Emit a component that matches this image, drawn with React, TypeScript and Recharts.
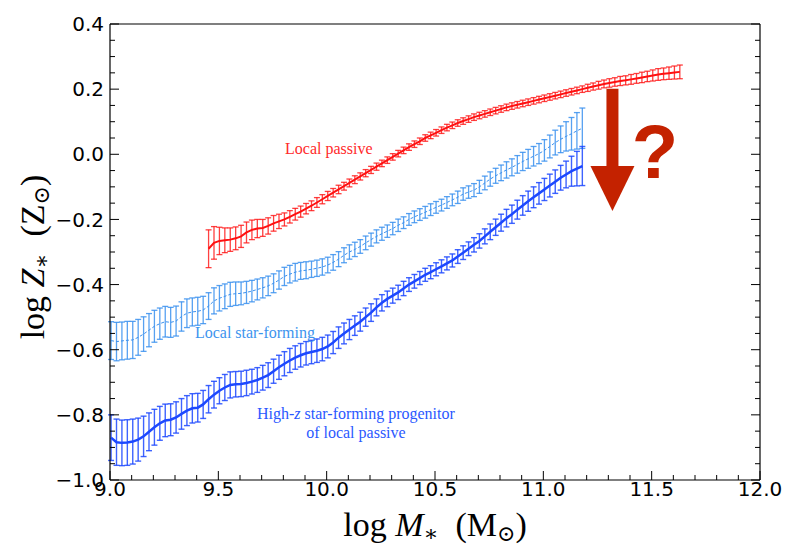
import {
  ComposedChart,
  ErrorBar,
  Line,
  ReferenceDot,
  ReferenceLine,
  XAxis,
  YAxis,
} from "recharts";

// stellar-mass bin centres, log M* (Msun)
const MASS = [
  9.005, 9.03, 9.055, 9.08, 9.105, 9.13, 9.155, 9.18, 9.205, 9.23,
  9.255, 9.28, 9.305, 9.33, 9.355, 9.38, 9.405, 9.43, 9.455, 9.48,
  9.505, 9.53, 9.555, 9.58, 9.605, 9.63, 9.655, 9.68, 9.705, 9.73,
  9.755, 9.78, 9.805, 9.83, 9.855, 9.88, 9.905, 9.93, 9.955, 9.98,
  10.005, 10.03, 10.055, 10.08, 10.105, 10.13, 10.155, 10.18, 10.205, 10.23,
  10.255, 10.28, 10.305, 10.33, 10.355, 10.38, 10.405, 10.43, 10.455, 10.48,
  10.505, 10.53, 10.555, 10.58, 10.605, 10.63, 10.655, 10.68, 10.705, 10.73,
  10.755, 10.78, 10.805, 10.83, 10.855, 10.88, 10.905, 10.93, 10.955, 10.98,
  11.005, 11.03, 11.055, 11.08, 11.105, 11.13, 11.155, 11.18, 11.205, 11.23,
  11.255, 11.28, 11.305, 11.33, 11.355, 11.38, 11.405, 11.43, 11.455, 11.48,
  11.505, 11.53, 11.555, 11.58, 11.605, 11.63,
];

// local passive galaxies start at the 9.455 bin
const PASSIVE_FIRST_BIN = 18;

const PASSIVE_Z = [
  -0.29, -0.272, -0.266, -0.264, -0.262, -0.258, -0.252, -0.24, -0.232, -0.228,
  -0.226, -0.22, -0.212, -0.206, -0.2, -0.192, -0.184, -0.176, -0.167, -0.158,
  -0.148, -0.138, -0.128, -0.118, -0.108, -0.098, -0.088, -0.078, -0.068, -0.058,
  -0.048, -0.038, -0.028, -0.018, -0.008, 0.002, 0.012, 0.022, 0.031, 0.04,
  0.05, 0.058, 0.066, 0.074, 0.082, 0.089, 0.096, 0.102, 0.108, 0.114,
  0.119, 0.124, 0.129, 0.134, 0.139, 0.144, 0.148, 0.152, 0.156, 0.16,
  0.164, 0.168, 0.172, 0.176, 0.18, 0.184, 0.188, 0.192, 0.196, 0.2,
  0.204, 0.208, 0.212, 0.216, 0.219, 0.222, 0.225, 0.227, 0.23, 0.233,
  0.236, 0.239, 0.242, 0.245, 0.247, 0.249, 0.251, 0.253,
];
const PASSIVE_ERR = [
  0.058, 0.05, 0.042, 0.038, 0.036, 0.035, 0.034, 0.032, 0.03, 0.028,
  0.026, 0.025, 0.024, 0.022, 0.02, 0.019, 0.018, 0.017, 0.016, 0.015,
  0.015, 0.014, 0.014, 0.013, 0.013, 0.012, 0.012, 0.012, 0.011, 0.011,
  0.011, 0.011, 0.01, 0.01, 0.01, 0.01, 0.01, 0.01, 0.01, 0.01,
  0.01, 0.01, 0.01, 0.01, 0.01, 0.01, 0.01, 0.01, 0.01, 0.01,
  0.01, 0.01, 0.01, 0.01, 0.01, 0.01, 0.01, 0.01, 0.01, 0.01,
  0.01, 0.01, 0.01, 0.01, 0.01, 0.01, 0.01, 0.01, 0.01, 0.01,
  0.011, 0.011, 0.012, 0.012, 0.013, 0.013, 0.014, 0.014, 0.015, 0.015,
  0.016, 0.016, 0.017, 0.018, 0.018, 0.019, 0.02, 0.021,
];

// local star-forming galaxies
const SF_Z = [
  -0.572, -0.575, -0.573, -0.571, -0.57, -0.562, -0.552, -0.54, -0.528, -0.52,
  -0.514, -0.516, -0.512, -0.498, -0.488, -0.484, -0.482, -0.478, -0.466, -0.45,
  -0.442, -0.436, -0.43, -0.428, -0.427, -0.424, -0.42, -0.415, -0.41, -0.404,
  -0.396, -0.386, -0.375, -0.368, -0.362, -0.358, -0.356, -0.353, -0.35, -0.346,
  -0.34, -0.332, -0.322, -0.31, -0.3, -0.292, -0.283, -0.272, -0.262, -0.252,
  -0.244, -0.236, -0.228, -0.218, -0.21, -0.2, -0.192, -0.185, -0.178, -0.17,
  -0.163, -0.156, -0.148, -0.14, -0.132, -0.122, -0.116, -0.11, -0.1, -0.088,
  -0.076, -0.066, -0.057, -0.048, -0.04, -0.031, -0.022, -0.014, -0.006, 0.002,
  0.012, 0.024, 0.036, 0.046, 0.055, 0.063, 0.072, 0.08,
];
const SF_ERR = [
  0.058, 0.059, 0.058, 0.058, 0.057, 0.055, 0.053, 0.051, 0.049, 0.048,
  0.047, 0.046, 0.046, 0.045, 0.044, 0.043, 0.043, 0.042, 0.041, 0.04,
  0.039, 0.038, 0.037, 0.036, 0.035, 0.034, 0.033, 0.032, 0.031, 0.03,
  0.029, 0.028, 0.028, 0.027, 0.027, 0.026, 0.026, 0.025, 0.025, 0.025,
  0.024, 0.024, 0.023, 0.023, 0.022, 0.022, 0.021, 0.021, 0.02, 0.02,
  0.02, 0.019, 0.019, 0.019, 0.018, 0.018, 0.018, 0.018, 0.018, 0.018,
  0.018, 0.018, 0.018, 0.018, 0.019, 0.019, 0.019, 0.02, 0.02, 0.021,
  0.022, 0.023, 0.024, 0.025, 0.026, 0.027, 0.028, 0.029, 0.03, 0.031,
  0.033, 0.035, 0.038, 0.041, 0.045, 0.05, 0.056, 0.062,
];

// high-z star-forming progenitors of local passive galaxies
const HIZ_Z = [
  -0.87, -0.884, -0.886, -0.885, -0.882, -0.876, -0.866, -0.852, -0.838, -0.826,
  -0.817, -0.815, -0.808, -0.797, -0.787, -0.78, -0.778, -0.768, -0.752, -0.738,
  -0.726, -0.716, -0.708, -0.706, -0.705, -0.702, -0.698, -0.693, -0.686, -0.678,
  -0.666, -0.654, -0.643, -0.633, -0.624, -0.617, -0.611, -0.607, -0.603, -0.598,
  -0.59, -0.578, -0.563, -0.55, -0.538, -0.526, -0.514, -0.5, -0.486, -0.47,
  -0.456, -0.444, -0.434, -0.424, -0.412, -0.4, -0.39, -0.38, -0.37, -0.362,
  -0.353, -0.344, -0.335, -0.326, -0.314, -0.302, -0.29, -0.278, -0.266, -0.252,
  -0.238, -0.224, -0.21, -0.196, -0.184, -0.17, -0.157, -0.144, -0.132, -0.12,
  -0.108, -0.096, -0.084, -0.072, -0.062, -0.052, -0.044, -0.036,
];
const HIZ_ERR = [
  0.07, 0.071, 0.07, 0.07, 0.069, 0.066, 0.062, 0.058, 0.055, 0.052,
  0.05, 0.049, 0.048, 0.047, 0.046, 0.045, 0.044, 0.043, 0.042, 0.041,
  0.04, 0.04, 0.04, 0.039, 0.039, 0.039, 0.038, 0.038, 0.038, 0.038,
  0.037, 0.037, 0.037, 0.037, 0.036, 0.036, 0.036, 0.036, 0.036, 0.036,
  0.035, 0.034, 0.033, 0.032, 0.031, 0.03, 0.029, 0.028, 0.027, 0.026,
  0.025, 0.024, 0.023, 0.022, 0.022, 0.021, 0.021, 0.02, 0.02, 0.02,
  0.02, 0.02, 0.02, 0.02, 0.021, 0.021, 0.021, 0.022, 0.022, 0.023,
  0.024, 0.025, 0.026, 0.027, 0.028, 0.029, 0.03, 0.031, 0.032, 0.033,
  0.034, 0.035, 0.036, 0.038, 0.041, 0.046, 0.053, 0.06,
];

const X_TICKS = [
  9.0, 9.1, 9.2, 9.3, 9.4, 9.5, 9.6, 9.7, 9.8, 9.9,
  10.0, 10.1, 10.2, 10.3, 10.4, 10.5, 10.6, 10.7, 10.8, 10.9,
  11.0, 11.1, 11.2, 11.3, 11.4, 11.5, 11.6, 11.7, 11.8, 11.9, 12.0,
];
const Y_TICKS = [
  -1.0, -0.95, -0.9, -0.85, -0.8, -0.75, -0.7, -0.65, -0.6, -0.55,
  -0.5, -0.45, -0.4, -0.35, -0.3, -0.25, -0.2, -0.15, -0.1, -0.05,
  0.0, 0.05, 0.1, 0.15, 0.2, 0.25, 0.3, 0.35, 0.4,
];

const passiveData = PASSIVE_Z.map((z, i) => ({
  mass: MASS[i + PASSIVE_FIRST_BIN],
  z,
  err: PASSIVE_ERR[i],
}));
const sfData = SF_Z.map((z, i) => ({ mass: MASS[i], z, err: SF_ERR[i] }));
const hizData = HIZ_Z.map((z, i) => ({ mass: MASS[i], z, err: HIZ_ERR[i] }));

const RED = "#ff1010";
const LIGHT_BLUE = "#3a90ee";
const BLUE = "#1c48ff";
const ARROW = "#c42200";

const SANS = "'DejaVu Sans', sans-serif";
const SERIF = "'Liberation Serif', 'DejaVu Serif', serif";

const MAJOR = 9;
const MINOR = 5;

const isMajorX = (v: number) => Math.abs(v * 2 - Math.round(v * 2)) < 1e-6;
const isMajorY = (v: number) => Math.abs(v * 5 - Math.round(v * 5)) < 1e-6;
const fmt = (v: number) => v.toFixed(1).replace("-", "\u2212");

function BottomTick({ x, y, payload }: any) {
  const major = isMajorX(payload.value);
  return (
    <g>
      <line x1={x} x2={x} y1={y} y2={y - (major ? MAJOR : MINOR)} stroke="#000" />
      {major && (
        <text x={x} y={y + 16} textAnchor="middle" fontFamily={SANS} fontSize={20} fill="#000">
          {fmt(payload.value)}
        </text>
      )}
    </g>
  );
}

function TopTick({ x, y, payload }: any) {
  const major = isMajorX(payload.value);
  return <line x1={x} x2={x} y1={y} y2={y + (major ? MAJOR : MINOR)} stroke="#000" />;
}

function LeftTick({ x, y, payload }: any) {
  const major = isMajorY(payload.value);
  return (
    <g>
      <line x1={x} x2={x + (major ? MAJOR : MINOR)} y1={y} y2={y} stroke="#000" />
      {major && (
        <text
          x={x - 6}
          y={y}
          dy="0.36em"
          textAnchor="end"
          fontFamily={SANS}
          fontSize={20}
          fill="#000"
        >
          {fmt(payload.value)}
        </text>
      )}
    </g>
  );
}

function RightTick({ x, y, payload }: any) {
  const major = isMajorY(payload.value);
  return <line x1={x} x2={x - (major ? MAJOR : MINOR)} y1={y} y2={y} stroke="#000" />;
}

// "log Q* (Q☉)" with subscripted asterisk and solar symbol
function MathTitle({ sym, x, y, transform }: any) {
  return (
    <text
      x={x}
      y={y}
      textAnchor="middle"
      transform={transform}
      fontFamily={SERIF}
      fontSize={34}
      fill="#000"
    >
      <tspan>log{"\u00a0"}</tspan>
      <tspan fontStyle="italic">{sym}</tspan>
      <tspan dy={5} fontSize={22}>{"\u2217"}</tspan>
      <tspan dy={-5}>{"\u00a0\u00a0"}({sym}</tspan>
      <tspan dy={5} fontSize={22}>{"\u2299"}</tspan>
      <tspan dy={-5}>)</tspan>
    </text>
  );
}

function XTitle({ viewBox }: any) {
  return <MathTitle sym="M" x={viewBox.x + viewBox.width / 2} y={viewBox.y + 56} />;
}

function YTitle({ viewBox }: any) {
  const cy = viewBox.y + viewBox.height / 2 + 5;
  const x = 44;
  return <MathTitle sym="Z" x={x} y={cy} transform={`rotate(-90, ${x}, ${cy})`} />;
}

const note = (lines: React.ReactNode[], color: string) => (props: any) => (
  <text x={props.cx} y={props.cy} textAnchor="middle" fontFamily={SERIF} fontSize={16} fill={color}>
    {lines.map((l, i) => (
      <tspan key={i} x={props.cx} dy={i === 0 ? 0 : 19}>
        {l}
      </tspan>
    ))}
  </text>
);

const arrowHead = (props: any) => (
  <polygon
    points={`${props.cx - 22},${props.cy} ${props.cx + 22},${props.cy} ${props.cx},${props.cy + 45}`}
    fill={ARROW}
  />
);

const question = (props: any) => (
  <text
    x={props.cx}
    y={props.cy}
    textAnchor="middle"
    fontFamily="'Liberation Sans', Arial, sans-serif"
    fontWeight="bold"
    fontSize={76}
    fill={ARROW}
  >
    ?
  </text>
);

const axisLine = { stroke: "#000", strokeWidth: 1.2 };

export default function App() {
  return (
    <div style={{ position: "absolute", left: 0, top: 0, width: 788, height: 548, background: "#fff" }}>
      {/* axis bands are 1px wide: the margins put the frame at 110..760 x 24..480 */}
      <ComposedChart width={788} height={548} margin={{ top: 23, right: 27, bottom: 67, left: 109 }}>
        <XAxis
          xAxisId="b"
          dataKey="mass"
          type="number"
          orientation="bottom"
          domain={[9, 12]}
          allowDataOverflow
          ticks={X_TICKS}
          interval={0}
          height={1}
          tickSize={0}
          tickMargin={0}
          tickLine={false}
          tick={<BottomTick />}
          axisLine={axisLine}
          label={<XTitle />}
        />
        <XAxis
          xAxisId="t"
          type="number"
          orientation="top"
          domain={[9, 12]}
          allowDataOverflow
          ticks={X_TICKS}
          interval={0}
          height={1}
          tickSize={0}
          tickMargin={0}
          tickLine={false}
          tick={<TopTick />}
          axisLine={axisLine}
        />
        <YAxis
          yAxisId="l"
          type="number"
          orientation="left"
          domain={[-1, 0.4]}
          allowDataOverflow
          ticks={Y_TICKS}
          interval={0}
          width={1}
          tickSize={0}
          tickMargin={0}
          tickLine={false}
          tick={<LeftTick />}
          axisLine={axisLine}
          label={<YTitle />}
        />
        <YAxis
          yAxisId="r"
          type="number"
          orientation="right"
          domain={[-1, 0.4]}
          allowDataOverflow
          ticks={Y_TICKS}
          interval={0}
          width={1}
          tickSize={0}
          tickMargin={0}
          tickLine={false}
          tick={<RightTick />}
          axisLine={axisLine}
        />

        <Line
          xAxisId="b"
          yAxisId="l"
          data={passiveData}
          dataKey="z"
          type="linear"
          stroke={RED}
          strokeWidth={2}
          dot={false}
          isAnimationActive={false}
        >
          <ErrorBar
            dataKey="err"
            direction="y"
            width={3}
            stroke={RED}
            strokeOpacity={0.8}
            strokeWidth={1.3}
            isAnimationActive={false}
          />
        </Line>
        <Line
          xAxisId="b"
          yAxisId="l"
          data={sfData}
          dataKey="z"
          type="linear"
          stroke={LIGHT_BLUE}
          strokeWidth={1}
          strokeDasharray="3 2"
          dot={false}
          isAnimationActive={false}
        >
          <ErrorBar
            dataKey="err"
            direction="y"
            width={3}
            stroke={LIGHT_BLUE}
            strokeOpacity={0.85}
            strokeWidth={1.3}
            isAnimationActive={false}
          />
        </Line>
        <Line
          xAxisId="b"
          yAxisId="l"
          data={hizData}
          dataKey="z"
          type="linear"
          stroke={BLUE}
          strokeWidth={2.5}
          dot={false}
          isAnimationActive={false}
        >
          <ErrorBar
            dataKey="err"
            direction="y"
            width={3}
            stroke={BLUE}
            strokeOpacity={0.85}
            strokeWidth={1.4}
            isAnimationActive={false}
          />
        </Line>

        <ReferenceDot
          xAxisId="b"
          yAxisId="l"
          x={10.01}
          y={0}
          r={0}
          shape={note(["Local passive"], "#ff2a2a")}
        />
        <ReferenceDot
          xAxisId="b"
          yAxisId="l"
          x={9.669}
          y={-0.565}
          r={0}
          shape={note(["Local star-forming"], "#3d94ee")}
        />
        <ReferenceDot
          xAxisId="b"
          yAxisId="l"
          x={10.135}
          y={-0.814}
          r={0}
          shape={note(
            [
              <>
                High-<tspan fontStyle="italic">z</tspan> star-forming progenitor
              </>,
              "of local passive",
            ],
            "#2a58ff",
          )}
        />

        <ReferenceLine
          xAxisId="b"
          yAxisId="l"
          segment={[
            { x: 11.319, y: 0.201 },
            { x: 11.319, y: -0.04 },
          ]}
          stroke={ARROW}
          strokeWidth={12}
        />
        <ReferenceDot xAxisId="b" yAxisId="l" x={11.319} y={-0.036} r={0} shape={arrowHead} />
        <ReferenceDot xAxisId="b" yAxisId="l" x={11.515} y={-0.073} r={0} shape={question} />
      </ComposedChart>
    </div>
  );
}
